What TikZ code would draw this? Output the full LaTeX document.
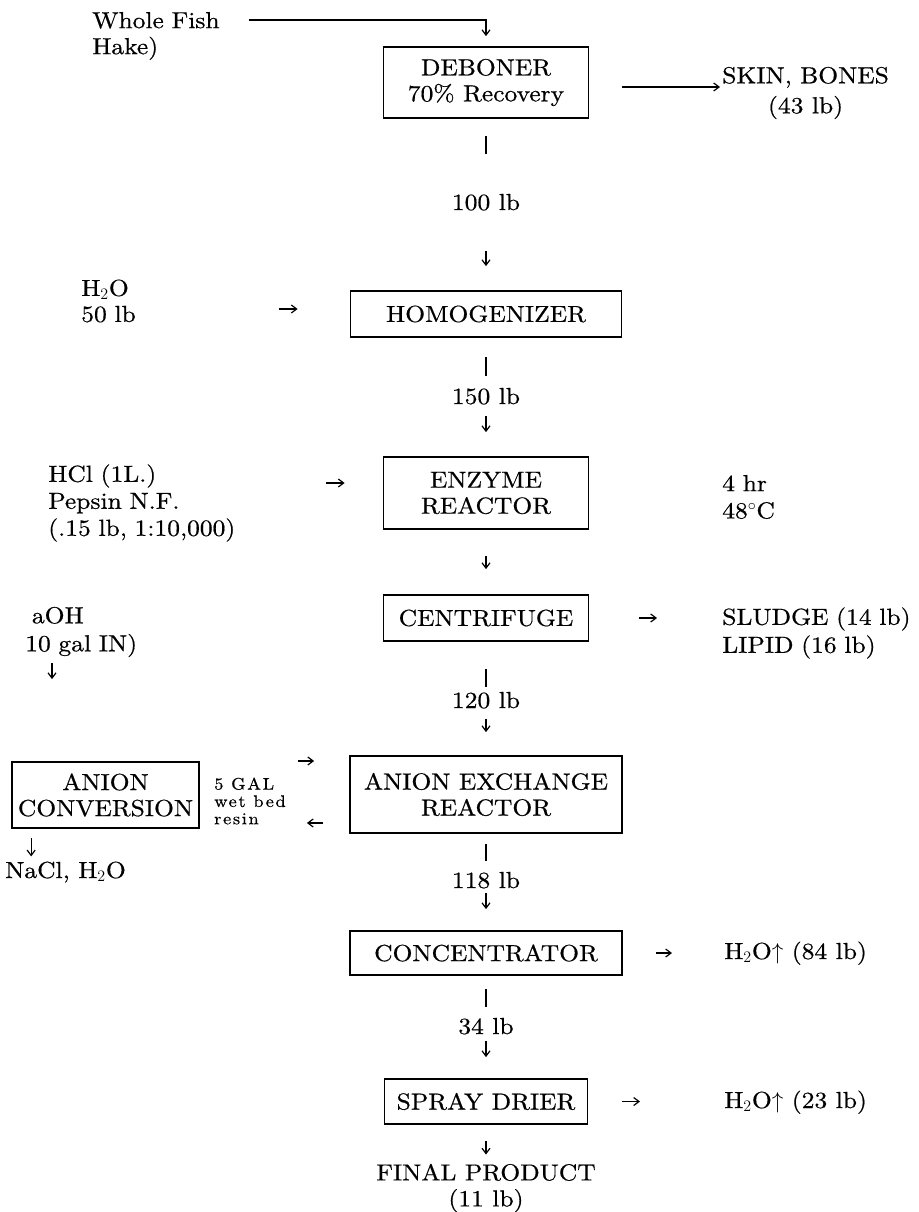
\documentclass[tikz,border=0pt]{standalone}
\usepackage{fontspec}
\setmainfont{lmroman10-regular.otf}[FakeStretch=1.1,FakeBold=0.6]
\usetikzlibrary{arrows.meta,calc}
\begin{document}
\begin{tikzpicture}[x=0.75pt,y=-0.75pt,
  font=\fontsize{17.4}{19.5}\selectfont,
  box/.style={draw,line width=1.3pt,inner sep=0pt,align=center},
  lbl/.style={inner sep=0pt,text height=12pt,text depth=3pt},
  side/.style={inner sep=0pt,align=left,anchor=west},
  arr/.style={line width=0.9pt,-{Straight Barb[length=4pt,width=6pt]}},
  stub/.style={line width=0.9pt}]
\useasboundingbox (0,0) rectangle (918,1212);

% main column boxes
\node[box,minimum width=153.75pt,minimum height=53.25pt] (deb) at (486,82.5) {DEBONER\\70\% Recovery};
\node[box,minimum width=203.25pt,minimum height=34.5pt] (hom) at (486,314) {HOMOGENIZER};
\node[box,minimum width=153.75pt,minimum height=54pt] (enz) at (486,493) {ENZYME\\REACTOR};
\node[box,minimum width=153.75pt,minimum height=34.5pt] (cen) at (486,618) {CENTRIFUGE};
\node[box,minimum width=204pt,minimum height=57.75pt] (aex) at (486,794.5) {ANION EXCHANGE\\REACTOR};
\node[box,minimum width=140.25pt,minimum height=49.5pt] (acv) at (105.5,795) {ANION\\CONVERSION};
\node[box,minimum width=204pt,minimum height=33pt] (con) at (486,953) {CONCENTRATOR};
\node[box,minimum width=152.25pt,minimum height=33.75pt] (spr) at (486,1101.5) {SPRAY DRIER};
\node[inner sep=0pt,align=center] (fin) at (486,1188) {FINAL PRODUCT\\(11 lb)};

% flow labels
\node[lbl] (l100) at (486,204) {100 lb};
\node[lbl] (l150) at (486,398) {150 lb};
\node[lbl] (l120) at (486,702) {120 lb};
\node[lbl] (l118) at (486,882) {118 lb};
\node[lbl] (l34) at (486,1028) {34 lb};

% side texts
\node[side,text width=97.5pt] (fish) at (92,36) {Whole Fish\\Hake)};
\node[side,align=center,font=\fontsize{17.4}{22.5}\selectfont] (skin) at (722,93) {SKIN, BONES\\(43 lb)};
\node[side,text width=45pt] (h2o) at (81,301) {H$_2$O\\50 lb};
\node[side,text width=153.75pt,font=\fontsize{17.4}{20.25}\selectfont] (hcl) at (48,503) {HCl (1L.)\\Pepsin N.F.\\(.15 lb, 1:10,000)};
\node[side,text width=60pt,font=\fontsize{17.4}{20.5}\selectfont] (temp) at (722,497) {4 hr\\48$^\circ$C};
\node[side,text width=120pt,font=\fontsize{17.4}{21}\selectfont] (naoh) at (25,632) {\hspace*{5pt}aOH\\10 gal IN)};
\node[side,text width=150pt,font=\fontsize{17.4}{21}\selectfont] (sludge) at (722,633) {SLUDGE (14 lb)\\LIPID (16 lb)};
\node[side,font=\fontsize{12.5}{13}\selectfont\addfontfeature{LetterSpace=10}] (gal) at (214,801) {5 GAL\\wet bed\\resin};
\node[side,lbl] (nacl) at (5,872) {NaCl, H$_2$O};
\node[side,lbl] (h84) at (724,953) {H$_2$O$\uparrow$ (84 lb)};
\node[side,lbl] (h23) at (724,1102) {H$_2$O$\uparrow$ (23 lb)};

% main vertical flow
\draw[stub,shorten <=12.75pt,shorten >=29.75pt] (deb.south) -- (l100.north);
\draw[arr,shorten <=27.5pt,shorten >=18pt] (l100.south) -- (hom.north);
\draw[stub,shorten <=14.25pt,shorten >=8.75pt] (hom.south) -- (l150.north);
\draw[arr,shorten <=5.75pt,shorten >=18pt] (l150.south) -- (enz.north);
\draw[arr,shorten <=19.5pt,shorten >=18.75pt] (enz.south) -- (cen.north);
\draw[stub,shorten <=20.25pt,shorten >=3.5pt] (cen.south) -- (l120.north);
\draw[arr,shorten <=5pt,shorten >=17.25pt] (l120.south) -- (aex.north);
\draw[stub,shorten <=7.5pt,shorten >=8pt] (aex.south) -- (l118.north);
\draw[arr,shorten <=0.5pt,shorten >=15.75pt] (l118.south) -- (con.north);
\draw[stub,shorten <=9.75pt,shorten >=8pt] (con.south) -- (l34.north);
\draw[arr,shorten <=2pt,shorten >=15.75pt] (l34.south) -- (spr.north);
\draw[arr,shorten <=12pt,shorten >=6.75pt] (spr.south) -- (fin.north);

% whole fish feed
\path (fish.east) ++(26,-16) coordinate (fo);
\draw[arr,shorten >=7.5pt] (fo) -| (deb.north);

% skin, bones
\coordinate (debR) at ($(deb.east)+(0,4.5)$);
\draw[arr,shorten <=24.75pt,shorten >=1.5pt] (debR) -- (debR -| skin.west);

% water feed
\coordinate (homL) at ($(hom.west)+(0,-5)$);
\draw[arr,shorten <=102.75pt,shorten >=39pt] (h2o.east |- homL) -- (homL);

% HCl / pepsin feed
\coordinate (enzL) at ($(enz.west)+(0,-10)$);
\draw[arr,shorten <=54pt,shorten >=28.5pt] (hcl.east |- enzL) -- (enzL);

% NaOH to anion conversion
\coordinate (nb) at ($(naoh.south west)+(27,0)$);
\draw[arr,shorten <=4.5pt,shorten >=61.5pt] (nb) -- (nb |- acv.north);

% anion conversion out
\coordinate (ab) at ($(acv.south west)+(20,0)$);
\draw[arr,shorten <=7pt,shorten >=4pt] (ab) -- (ab |- nacl.north);

% resin exchange
\coordinate (acvU) at ($(acv.east)+(0,-34)$);
\draw[arr,shorten <=73.5pt,shorten >=26.25pt] (acvU) -- (acvU -| aex.west);
\coordinate (aexD) at ($(aex.west)+(0,28.5)$);
\draw[arr,shorten <=19.5pt,shorten >=80.25pt] (aexD) -- (aexD -| acv.east);

% side outputs
\draw[arr,shorten <=37.1pt,shorten >=48.75pt] (cen.east) -- (cen.east -| sludge.west);
\draw[arr,shorten <=24.75pt,shorten >=39pt] (con.east) -- (con.east -| h84.west);
\draw[arr,shorten <=25.1pt,shorten >=63pt] (spr.east) -- (spr.east -| h23.west);
\end{tikzpicture}
\end{document}
